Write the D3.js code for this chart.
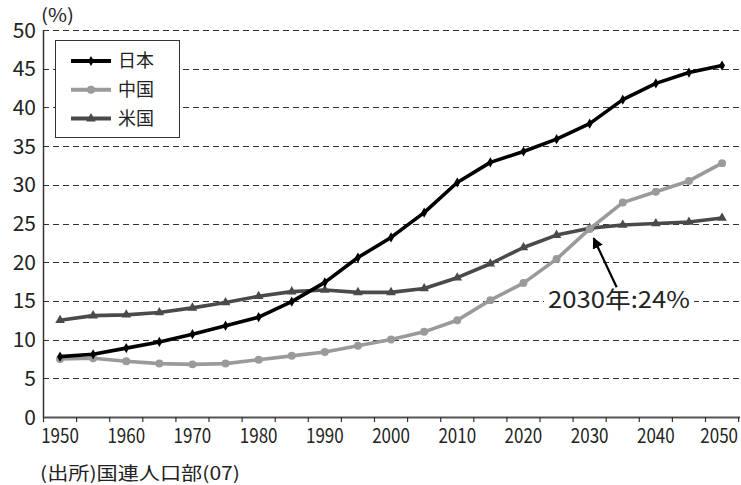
<!DOCTYPE html>
<html>
<head>
<meta charset="utf-8">
<script src="https://cdn.jsdelivr.net/npm/d3@7"></script>
<style>
  body { margin: 0; background: #fff; }
  svg { display: block; font-family: "Noto Sans CJK JP", "Noto Sans", sans-serif; }
</style>
</head>
<body>
<div id="chart"></div>
<script>
// years, every 5 years
var years = [1950,1955,1960,1965,1970,1975,1980,1985,1990,1995,2000,2005,2010,2015,2020,2025,2030,2035,2040,2045,2050]
var yearLabels = [1950,1960,1970,1980,1990,2000,2010,2020,2030,2040,2050]
var yTicks = [0,5,10,15,20,25,30,35,40,45,50]

// share of population 65+ (%)
var japan = [7.8,8.1,8.9,9.7,10.7,11.8,12.9,14.9,17.4,20.6,23.2,26.4,30.3,32.9,34.3,35.9,37.9,41.0,43.1,44.5,45.4]
var china = [7.5,7.6,7.2,6.9,6.8,6.9,7.4,7.9,8.4,9.2,10.0,11.0,12.5,15.1,17.3,20.4,24.3,27.7,29.1,30.5,32.8]
var usa   = [12.5,13.1,13.2,13.5,14.1,14.8,15.6,16.2,16.4,16.1,16.1,16.6,18.0,19.8,21.9,23.5,24.4,24.8,25.0,25.2,25.7]

var seriesNames = ["日本","中国","米国"]
var note = "2030年:24%"
var noteYear = 2030, noteValue = 24
var source = "(出所)国連人口部(07)"

var W = 741, H = 485
var svg = d3.select("#chart").append("svg").attr("width", W).attr("height", H)

var x = d3.scaleBand().domain(years).range([43.5, 738.6]).padding(0)
var xc = function(d){ return x(d) + x.bandwidth()/2 }
var y = d3.scaleLinear().domain([0,50]).range([417, 30])

// gridlines
svg.append("g").selectAll("line")
    .data(yTicks.filter(function(d){ return d > 0 }))
    .enter().append("line")
    .attr("x1", 43).attr("x2", W)
    .attr("y1", function(d){ return Math.round(y(d)) + 0.5 })
    .attr("y2", function(d){ return Math.round(y(d)) + 0.5 })
    .attr("stroke", "#333").attr("stroke-width", 1.2)
    .attr("stroke-dasharray", "6,4")

// y labels
svg.append("g").selectAll("text")
    .data(yTicks).enter().append("text")
    .attr("x", 36).attr("y", function(d){ return y(d) })
    .attr("dy", "0.36em")
    .attr("text-anchor", "end")
    .style("font-size", "21px").style("fill", "#222")
    .text(function(d){ return d })

svg.append("text").attr("x", 41).attr("y", 22)
    .attr("textLength", 33).attr("lengthAdjust", "spacingAndGlyphs")
    .style("font-size", "18px").style("fill", "#222")
    .text("(%)")

// axes lines
svg.append("line").attr("x1", 43.5).attr("x2", 43.5).attr("y1", 30).attr("y2", 418)
    .attr("stroke", "#333").attr("stroke-width", 1.5)
svg.append("line").attr("x1", 43).attr("x2", 740).attr("y1", 417.5).attr("y2", 417.5)
    .attr("stroke", "#555").attr("stroke-width", 1.8)

// x tick marks at band edges
var edges = years.map(function(d){ return x(d) }).concat([x.range()[1]])
svg.append("g").selectAll("line")
    .data(edges).enter().append("line")
    .attr("x1", function(d){ return d }).attr("x2", function(d){ return d })
    .attr("y1", 417).attr("y2", 422)
    .attr("stroke", "#333").attr("stroke-width", 1.2)

// x labels, narrow glyphs; last one kept inside the edge
var last = yearLabels[yearLabels.length - 1]
svg.append("g").selectAll("text")
    .data(yearLabels).enter().append("text")
    .attr("transform", function(d){
        var px = d === last ? W - 3 : xc(d)
        return "translate(" + px + ",443) scale(0.85,1)"
    })
    .attr("text-anchor", function(d){ return d === last ? "end" : "middle" })
    .style("font-size", "20px").style("fill", "#222")
    .text(function(d){ return d })

// source
svg.append("text").attr("x", 40).attr("y", 480)
    .attr("textLength", 200).attr("lengthAdjust", "spacingAndGlyphs")
    .style("font-size", "18px").style("fill", "#222")
    .text(source)

var line = d3.line().x(function(d,i){ return xc(years[i]) }).y(function(d){ return y(d) })

var series = [
    {name: seriesNames[2], data: usa,   color: "#4a4a4a", sym: d3.symbolTriangle, size: 40},
    {name: seriesNames[1], data: china, color: "#9a9a9a", sym: d3.symbolCircle,   size: 50},
    {name: seriesNames[0], data: japan, color: "#000",    sym: d3.symbolDiamond,  size: 30}
]

series.forEach(function(s){
    svg.append("path").datum(s.data)
        .attr("d", line)
        .attr("fill", "none").attr("stroke", s.color)
        .attr("stroke-width", 3.6).attr("stroke-linejoin", "round")
    svg.append("g").selectAll("path")
        .data(s.data).enter().append("path")
        .attr("transform", function(d,i){ return "translate(" + xc(years[i]) + "," + y(d) + ")" })
        .attr("d", d3.symbol().type(s.sym).size(s.size))
        .attr("fill", s.color)
})

// legend
var lg = svg.append("g")
lg.append("rect").attr("x", 55.5).attr("y", 40.5).attr("width", 124).attr("height", 97)
    .attr("fill", "#fff").attr("stroke", "#333").attr("stroke-width", 1)
var legendOrder = [series[2], series[1], series[0]]
legendOrder.forEach(function(s, i){
    var ly = 61 + i * 28.8
    lg.append("line").attr("x1", 71).attr("x2", 111).attr("y1", ly).attr("y2", ly)
        .attr("stroke", s.color).attr("stroke-width", 4)
    lg.append("path").attr("transform", "translate(91," + ly + ")")
        .attr("d", d3.symbol().type(s.sym).size(s.size)).attr("fill", s.color)
    lg.append("text").attr("x", 118).attr("y", ly).attr("dy", "0.36em")
        .style("font-size", "18px").style("fill", "#222")
        .text(s.name)
})

// annotation
var tipX = xc(noteYear) + 4, tipY = y(noteValue) + 7
svg.append("defs").append("marker")
    .attr("id", "arrow").attr("viewBox", "0 0 10 10")
    .attr("refX", 9).attr("refY", 5)
    .attr("markerWidth", 5).attr("markerHeight", 5)
    .attr("markerUnits", "strokeWidth")
    .attr("orient", "auto")
    .append("path").attr("d", "M0,0 L10,5 L0,10 Z").attr("fill", "#000")
svg.append("line")
    .attr("x1", tipX + 23).attr("y1", tipY + 49)
    .attr("x2", tipX).attr("y2", tipY)
    .attr("stroke", "#000").attr("stroke-width", 2.2)
    .attr("marker-end", "url(#arrow)")
svg.append("rect").attr("x", 544).attr("y", 289).attr("width", 150).attr("height", 22).attr("fill", "#fff")
svg.append("text").attr("x", 619).attr("y", 308)
    .attr("text-anchor", "middle")
    .attr("textLength", 142).attr("lengthAdjust", "spacingAndGlyphs")
    .style("font-size", "23px").style("fill", "#222")
    .text(note)
</script>
</body>
</html>
